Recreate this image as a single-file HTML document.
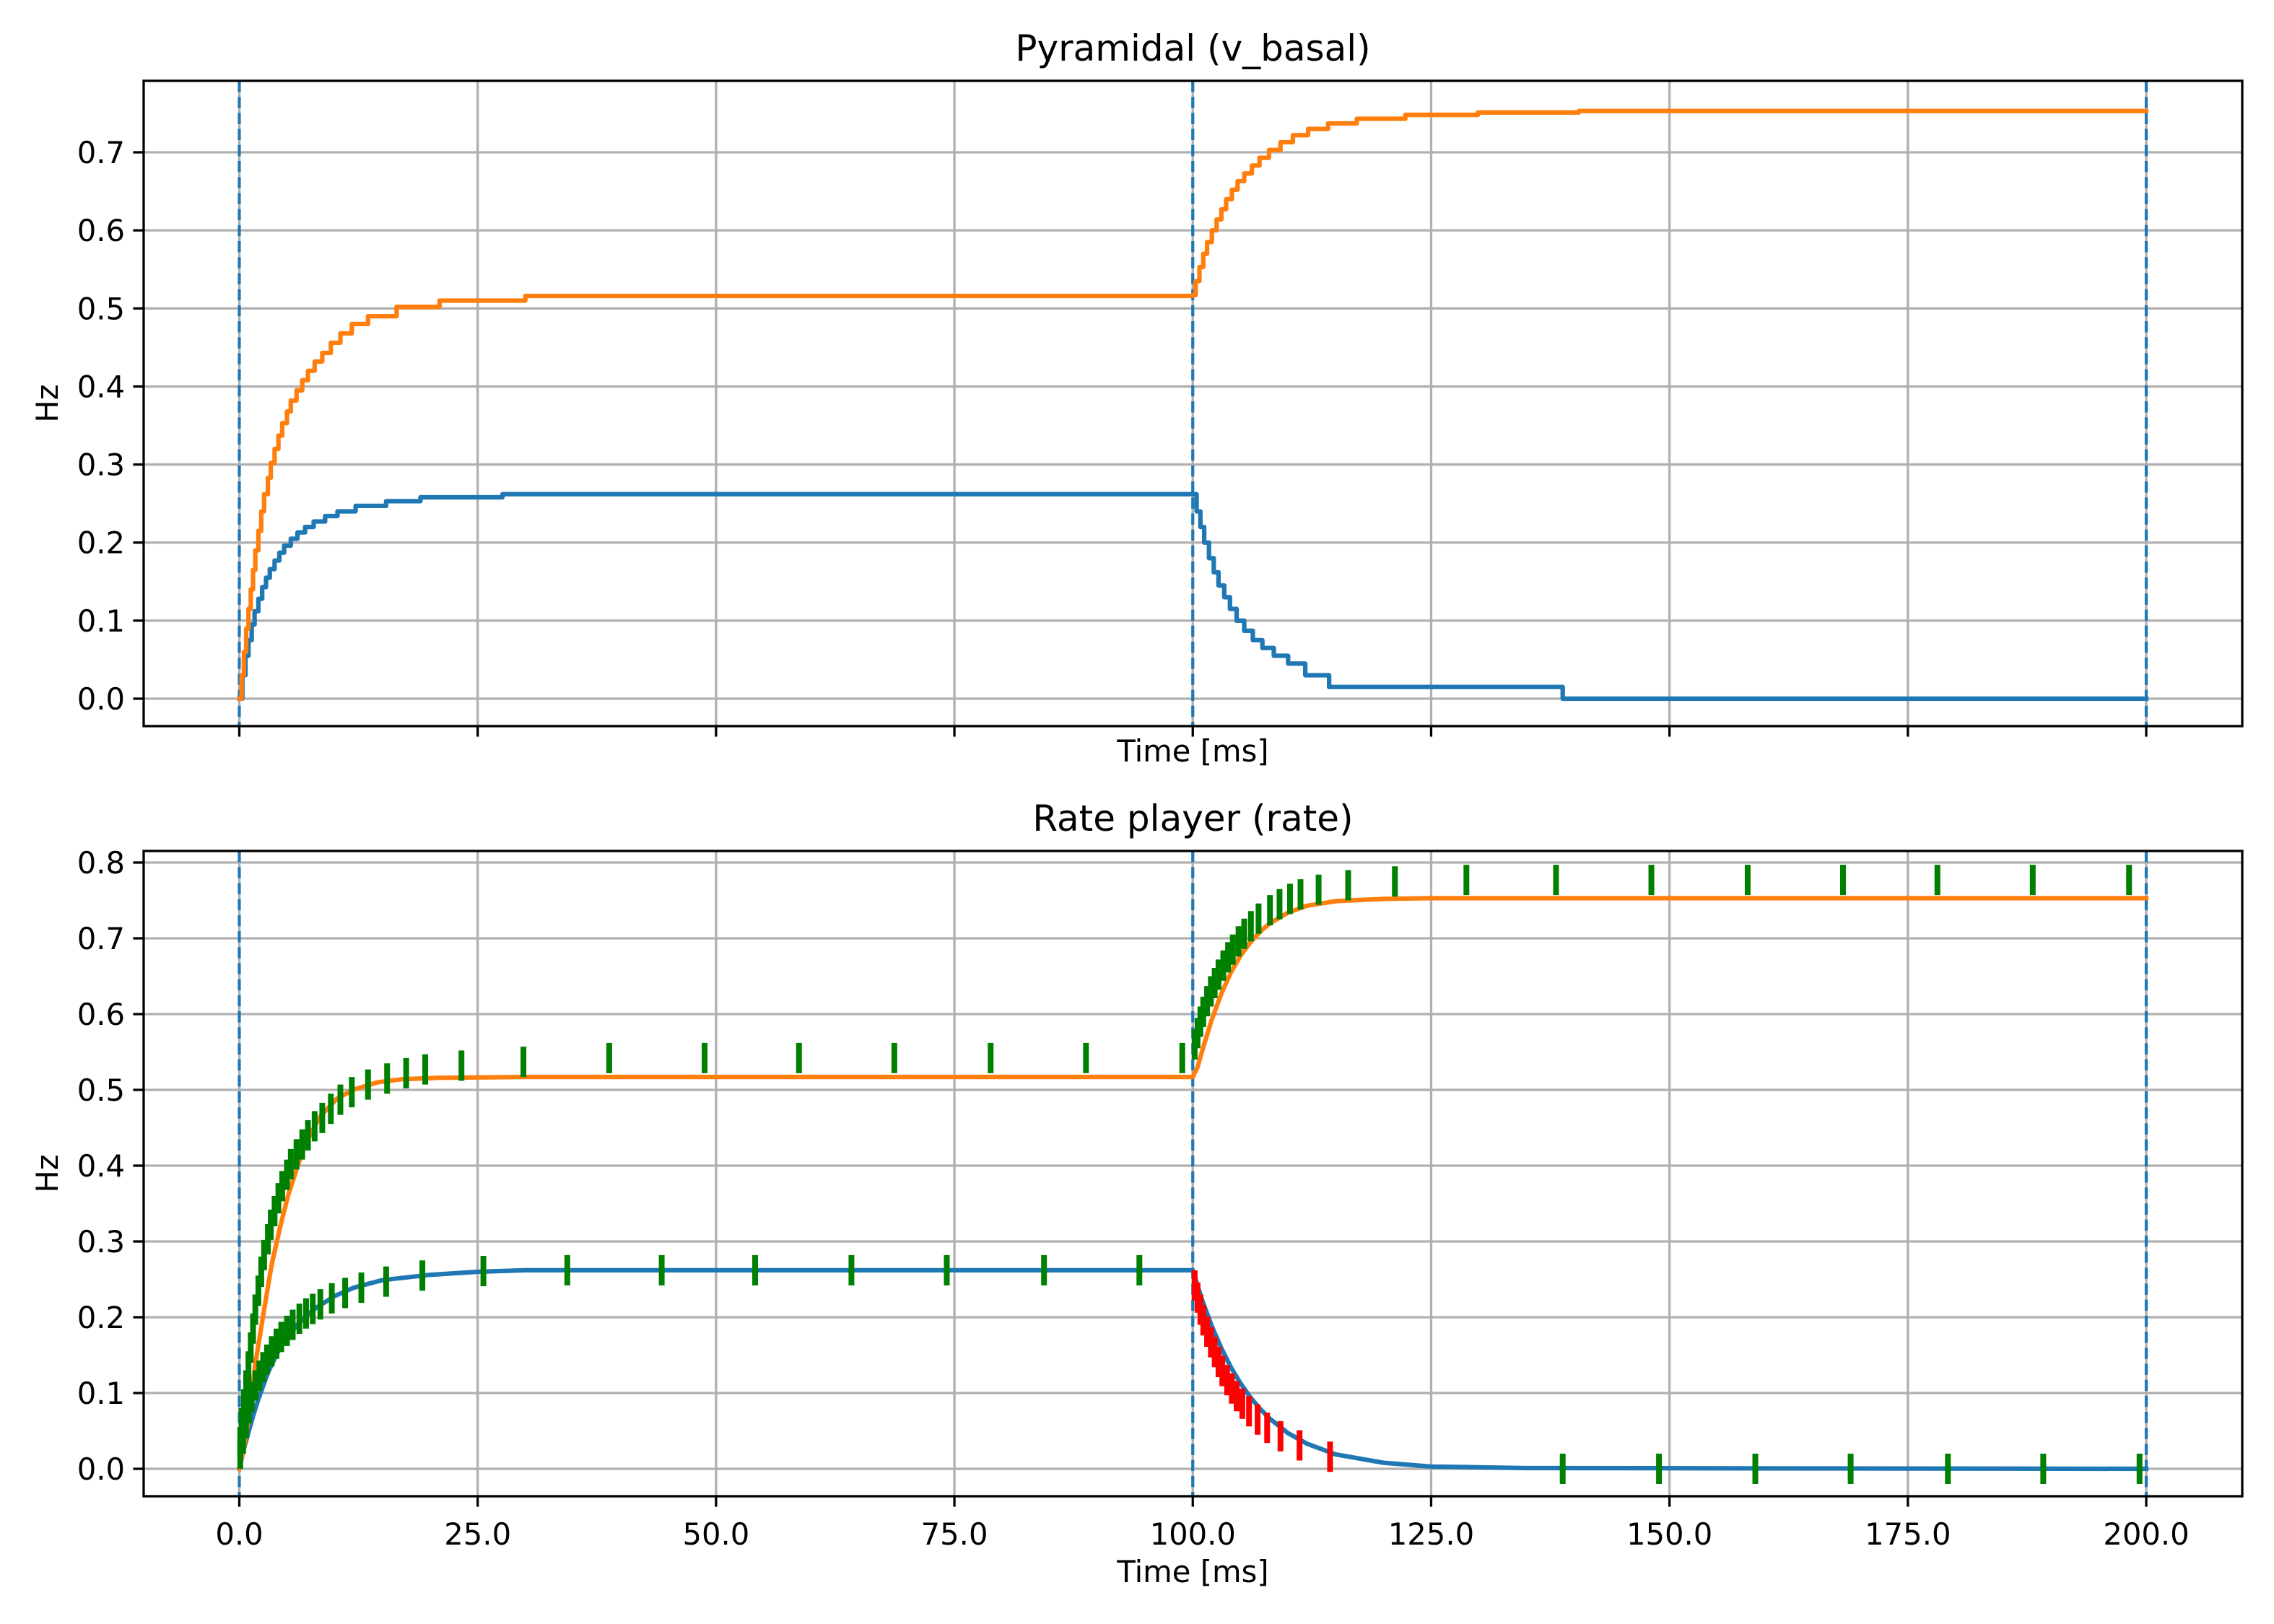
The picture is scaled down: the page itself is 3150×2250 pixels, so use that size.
<!DOCTYPE html>
<html><head><meta charset="utf-8"><style>
html,body{margin:0;padding:0;background:#fff}
svg{display:block}
text{font-family:"DejaVu Sans","Liberation Sans",sans-serif;fill:#000}
</style></head><body>
<svg id="fig" width="3150" height="2250" viewBox="0 0 3150 2250" xmlns="http://www.w3.org/2000/svg"></svg>
<script>
// ---- data ----
const xTicks = [0, 25, 50, 75, 100, 125, 150, 175, 200];
const xTickLabels = ["0.0","25.0","50.0","75.0","100.0","125.0","150.0","175.0","200.0"];
const yTicksTop = [0,0.1,0.2,0.3,0.4,0.5,0.6,0.7];
const yTicksBot = [0,0.1,0.2,0.3,0.4,0.5,0.6,0.7,0.8];
const stimTimes = [0, 100, 200];

// top panel (stepped)
const topBlueT = [0,0.32,0.64,0.96,1.3,1.6,2.0,2.4,2.8,3.2,3.7,4.2,4.7,5.4,6.1,6.9,7.8,9.0,10.3,12.2,15.4,19.0,27.6,100,100.4,100.8,101.2,101.7,102.2,102.7,103.3,103.9,104.6,105.4,106.3,107.3,108.5,110,111.8,114.3,138.8,200];
const topBlueV = [0,0.03,0.055,0.075,0.095,0.112,0.128,0.143,0.155,0.166,0.177,0.187,0.196,0.205,0.213,0.22,0.227,0.234,0.24,0.247,0.253,0.258,0.262,0.262,0.24,0.22,0.2,0.18,0.162,0.145,0.13,0.115,0.1,0.087,0.075,0.065,0.055,0.045,0.03,0.015,0,0];
const topOrangeT = [0,0.24,0.48,0.72,0.96,1.2,1.44,1.68,2.0,2.3,2.6,3.0,3.3,3.7,4.1,4.5,5.0,5.4,6.0,6.6,7.2,7.9,8.7,9.6,10.6,11.8,13.5,16.5,21,30,100,100.3,100.7,101.1,101.5,102,102.5,103,103.5,104.1,104.7,105.4,106.2,107,108,109.2,110.5,112.1,114.2,117.2,122.3,129.9,140.5,200];
const topOrangeV = [0,0.03,0.06,0.09,0.115,0.14,0.165,0.19,0.215,0.24,0.262,0.283,0.302,0.32,0.337,0.353,0.368,0.382,0.395,0.408,0.42,0.432,0.443,0.456,0.468,0.48,0.49,0.502,0.51,0.516,0.517,0.535,0.553,0.57,0.585,0.6,0.614,0.627,0.64,0.652,0.663,0.673,0.683,0.693,0.703,0.713,0.722,0.73,0.737,0.743,0.748,0.751,0.753,0.753];

// bottom panel (smooth)
const botBlueT = [0,0.5,1,1.5,2,3,4,5,6,7,8,10,12,15,20,25,30,100,101,102,103,104,105,106,107,108,110,112,115,120,125,135,200];
const botBlueV = [0,0.027,0.05,0.072,0.092,0.127,0.153,0.173,0.189,0.202,0.212,0.228,0.239,0.249,0.256,0.26,0.262,0.262,0.222,0.188,0.159,0.134,0.113,0.095,0.08,0.067,0.047,0.033,0.019,0.008,0.003,0.001,0];
const botOrangeT = [0,0.45,0.9,1.3,1.7,2.6,3.4,4.3,5.1,6,6.8,7.7,8.5,10.2,11.9,14.5,17,21,30,100,100.5,101,102,103,104,105,106,107,108,110,112,115,120,125,200];
const botOrangeV = [0,0.025,0.06,0.1,0.14,0.21,0.27,0.32,0.36,0.395,0.425,0.447,0.465,0.488,0.5,0.51,0.514,0.516,0.517,0.517,0.53,0.552,0.593,0.627,0.655,0.677,0.694,0.708,0.719,0.734,0.743,0.749,0.752,0.753,0.753];

// spikes: green and red markers, centered at (t, y)
const spikeBlueT = [0.1,0.4,0.7,1.0,1.3,1.7,2.1,2.5,2.9,3.4,3.9,4.4,5.0,5.6,6.3,7.0,7.7,8.5,9.7,11.1,12.8,15.4,19.2,25.6,34.4,44.3,54.1,64.2,74.2,84.4,94.4,138.8,148.9,159.0,169.0,179.2,189.2,199.3];
const spikeBlueY = [0.02,0.04,0.06,0.08,0.095,0.11,0.123,0.134,0.144,0.155,0.165,0.174,0.182,0.19,0.198,0.205,0.211,0.217,0.225,0.232,0.239,0.247,0.255,0.261,0.262,0.262,0.262,0.262,0.262,0.262,0.262,0,0,0,0,0,0,0];
const spikeOrangeT = [0.1,0.24,0.48,0.72,0.96,1.2,1.44,1.68,2.0,2.3,2.6,3.0,3.3,3.7,4.1,4.5,5.0,5.4,6.0,6.6,7.2,7.9,8.7,9.6,10.6,11.8,13.5,15.5,17.5,19.5,23.3,29.8,38.8,48.8,58.7,68.7,78.8,88.8,98.9,100.2,100.5,100.8,101.1,101.5,101.9,102.3,102.7,103.2,103.7,104.2,104.8,105.4,106.1,106.9,108.1,109.1,110.2,111.3,113.2,116.3,121.2,128.7,138.1,148.1,158.2,168.2,178.1,188.1,198.2];
const spikeOrangeY = [0.035,0.06,0.085,0.11,0.135,0.16,0.185,0.21,0.235,0.26,0.282,0.303,0.322,0.34,0.357,0.373,0.388,0.402,0.415,0.428,0.44,0.452,0.463,0.475,0.487,0.497,0.507,0.515,0.522,0.527,0.532,0.537,0.542,0.542,0.542,0.542,0.542,0.542,0.542,0.56,0.575,0.59,0.603,0.617,0.63,0.641,0.652,0.664,0.675,0.685,0.696,0.706,0.716,0.726,0.737,0.745,0.752,0.758,0.764,0.77,0.775,0.777,0.777,0.777,0.777,0.777,0.777,0.777,0.777];
const spikeRedT = [100.2,100.5,100.8,101.1,101.5,101.9,102.3,102.7,103.1,103.6,104.1,104.6,105.2,105.9,106.8,107.8,109.2,111.2,114.4];
const spikeRedY = [0.242,0.226,0.21,0.196,0.181,0.167,0.154,0.141,0.129,0.117,0.106,0.096,0.086,0.076,0.065,0.054,0.043,0.031,0.016];

// ---- drawing ----
const svg = document.getElementById('fig');
const NS = 'http://www.w3.org/2000/svg';
const L = 199, R = 3106;
const X0 = 331.5, X200 = 2973;
function xs(t){ return X0 + (X200 - X0) * t / 200; }
const panels = [
  {name:'top', top:112, bottom:1006, y0:968, yPer:108.14, yTicks:yTicksTop, title:'Pyramidal (v_basal)', titleY:84, labels:false, xlabelY:1055},
  {name:'bottom', top:1179, bottom:2073, y0:2035, yPer:105, yTicks:yTicksBot, title:'Rate player (rate)', titleY:1151, labels:true, xlabelY:2192}
];
function mk(tag, attrs, parent){ const e=document.createElementNS(NS,tag); for(const k in attrs) e.setAttribute(k,attrs[k]); (parent||svg).appendChild(e); return e; }

panels.forEach(p=>{
  const ys = v => p.y0 - p.yPer * v * 10;
  const g = mk('g',{});
  
  
  const clipId = 'clip-' + p.name;
  const cp = mk('clipPath',{id:clipId}, g);
  mk('rect',{x:L,y:p.top,width:R-L,height:p.bottom-p.top}, cp);
  xTicks.forEach(t=>{
    const ln = mk('line',{x1:xs(t),x2:xs(t),y1:p.top,y2:p.bottom,stroke:'#b0b0b0','stroke-width':3.3}, g);
    
    
  });
  p.yTicks.forEach(v=>{
    const ln = mk('line',{x1:L,x2:R,y1:ys(v),y2:ys(v),stroke:'#b0b0b0','stroke-width':3.3}, g);
    
    
  });
  const pg = mk('g',{'clip-path':'url(#'+clipId+')'}, g);
  stimTimes.forEach(t=>{
    const ln = mk('line',{x1:xs(t),x2:xs(t),y1:p.top,y2:p.bottom,stroke:'#1f77b4','stroke-width':4.2,'stroke-dasharray':'15.5,6.7'}, pg);
    
    
  });
  function line(T,V,color,step,name){
    let d='';
    for(let i=0;i<T.length;i++){
      const x=xs(T[i]), y=ys(V[i]);
      if(i===0) d+='M'+x+' '+y;
      else if(step) d+=' L'+x+' '+ys(V[i-1])+' L'+x+' '+y;
      else d+=' L'+x+' '+y;
    }
    const pa = mk('path',{d:d,fill:'none',stroke:color,'stroke-width':6.25,'stroke-linejoin':'round','stroke-linecap':'square'}, pg);
    
    
  }
  function spikes(T,Y,color,name){
    for(let i=0;i<T.length;i++){
      const ln = mk('line',{x1:xs(T[i]),x2:xs(T[i]),y1:ys(Y[i])-21,y2:ys(Y[i])+21,stroke:color,'stroke-width':8}, pg);
      
      
    }
  }
  if(p.name==='top'){
    line(topBlueT, topBlueV, '#1f77b4', true, 'blue-trace');
    line(topOrangeT, topOrangeV, '#ff7f0e', true, 'orange-trace');
  } else {
    line(botBlueT, botBlueV, '#1f77b4', false, 'blue-rate');
    line(botOrangeT, botOrangeV, '#ff7f0e', false, 'orange-rate');
    spikes(spikeBlueT, spikeBlueY, '#008000', 'spike-marker');
    spikes(spikeOrangeT, spikeOrangeY, '#008000', 'spike-marker');
    spikes(spikeRedT, spikeRedY, '#ff0000', 'spike-marker-red');
  }
  const fr = mk('rect',{x:L,y:p.top,width:R-L,height:p.bottom-p.top,fill:'none',stroke:'#000','stroke-width':3.3}, g);
  
  
  xTicks.forEach((t,i)=>{
    mk('line',{x1:xs(t),x2:xs(t),y1:p.bottom,y2:p.bottom+14.6,stroke:'#000','stroke-width':3.3}, g);
    if(p.labels){
      const tx = mk('text',{x:xs(t),y:p.bottom+67,'text-anchor':'middle','font-size':41.7}, g);
      tx.textContent = xTickLabels[i];
      
      
    }
  });
  p.yTicks.forEach(v=>{
    mk('line',{x1:L-14.6,x2:L,y1:ys(v),y2:ys(v),stroke:'#000','stroke-width':3.3}, g);
    const tx = mk('text',{x:L-26,y:ys(v)+15,'text-anchor':'end','font-size':41.7}, g);
    tx.textContent = v.toFixed(1);
    
    
  });
  const ti = mk('text',{x:(L+R)/2,y:p.titleY,'text-anchor':'middle','font-size':50}, g);
  ti.textContent = p.title;
  
  
  const xl = mk('text',{x:(L+R)/2,y:p.xlabelY,'text-anchor':'middle','font-size':41.7}, g);
  xl.textContent = 'Time [ms]';
  
  
  const cy = (p.top+p.bottom)/2;
  const yl = mk('text',{x:80,y:cy,'text-anchor':'middle','font-size':41.7,transform:'rotate(-90 80 '+cy+')'}, g);
  yl.textContent = 'Hz';
  
  
});
</script>
</body></html>
